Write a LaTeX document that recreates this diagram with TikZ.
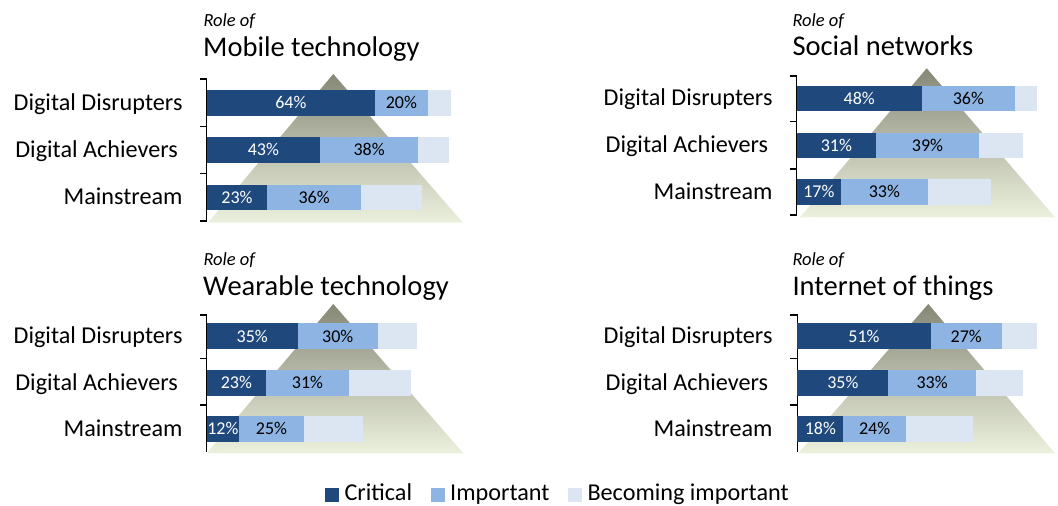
\documentclass[tikz,border=0pt]{standalone}
\usepackage{fontspec}
\setmainfont{Carlito}
\definecolor{crit}{RGB}{31,73,125}
\definecolor{imp}{RGB}{141,180,226}
\definecolor{becm}{RGB}{220,230,242}
\definecolor{pyrtop}{RGB}{134,136,118}
\definecolor{pyrbot}{RGB}{236,241,222}
\tikzset{
  grp/.style={anchor=base east,inner sep=0pt,font=\fontsize{24.2}{28}\selectfont},
  pct/.style={anchor=base,inner sep=0pt,font=\fontsize{18}{21}\selectfont},
  roleof/.style={anchor=base west,inner sep=0pt,font=\fontsize{18.5}{21}\selectfont\itshape},
  ttl/.style={anchor=base west,inner sep=0pt,font=\fontsize{28.5}{32}\selectfont},
  legtxt/.style={anchor=base west,inner sep=0pt,font=\fontsize{24.2}{28}\selectfont},
  brk/.style={line width=1.4pt,black},
}
% #1 name, #2 x0, #3 ytop, #4 dark end, #5 mid end, #6 light end, #7 label1, #8 label2
\newcommand\drawbar[8]{%
  \fill[becm] (#5,#3) rectangle (#6,#3+25.7);
  \fill[imp] (#4,#3) rectangle (#5,#3+25.7);
  \fill[crit] (#2,#3) rectangle (#4,#3+25.7);
  \node[pct,text=white] (#1c) at ({(#2+#4)/2},#3+18.9) {#7};
  \node[pct] (#1i) at ({(#4+#5)/2},#3+18.9) {#8};
}
\begin{document}
\begin{tikzpicture}[x=1pt,y=-1pt]
\useasboundingbox (0,0) rectangle (1058,506);
% ---------- pyramids ----------
\shade[top color=pyrtop,bottom color=pyrbot] (333.3,74) -- (463,222.7) -- (208,222.7) -- cycle;
\shade[top color=pyrtop,bottom color=pyrbot] (926.7,68.3) -- (1055,217.3) -- (800,217.3) -- cycle;
\shade[top color=pyrtop,bottom color=pyrbot] (333.3,304) -- (463.3,453.3) -- (206.7,453.3) -- cycle;
\shade[top color=pyrtop,bottom color=pyrbot] (928.3,304) -- (1055,453.3) -- (798.3,453.3) -- cycle;
% ---------- panel 1 ----------
\node[roleof] (r1) at (203.3,26) {Role of};
\node[ttl] (t1) at (203,56) {Mobile technology};
\draw[brk] (199.5,79) -- (206.7,79) -- (206.7,221) -- (199.5,221);
\draw[brk] (199.5,126.7) -- (206.7,126.7);
\draw[brk] (199.5,173.3) -- (206.7,173.3);
\drawbar{a1}{206.7}{90}{375}{427.7}{450.7}{64\%}{20\%}
\drawbar{a2}{206.7}{137}{320}{418.3}{449}{43\%}{38\%}
\drawbar{a3}{206.7}{184.5}{267.3}{361}{421.7}{23\%}{36\%}
\node[grp] (g11) at (182.7,110) {Digital Disrupters};
\node[grp] (g12) at (178,157.2) {Digital Achievers};
\node[grp] (g13) at (182.7,204.7) {Mainstream};
% ---------- panel 2 ----------
\node[roleof] (r2) at (792.3,26) {Role of};
\node[ttl] (t2) at (792.3,55) {Social networks};
\draw[brk] (789.5,76) -- (796.7,76) -- (796.7,215) -- (789.5,215);
\draw[brk] (789.5,121.7) -- (796.7,121.7);
\draw[brk] (789.5,169) -- (796.7,169);
\drawbar{b1}{796.7}{85.7}{921.7}{1015}{1036.7}{48\%}{36\%}
\drawbar{b2}{796.7}{132.5}{876}{979}{1022.7}{31\%}{39\%}
\drawbar{b3}{796.7}{179}{841}{927.7}{991}{17\%}{33\%}
\node[grp] (g21) at (772.7,105.7) {Digital Disrupters};
\node[grp] (g22) at (768.3,152.5) {Digital Achievers};
\node[grp] (g23) at (772.7,199.2) {Mainstream};
% ---------- panel 3 ----------
\node[roleof] (r3) at (203.3,265) {Role of};
\node[ttl] (t3) at (203,295) {Wearable technology};
\draw[brk] (199.5,315) -- (206.7,315) -- (206.7,451.7);
\draw[brk] (199.5,358.3) -- (206.7,358.3);
\draw[brk] (199.5,405) -- (206.7,405);
\drawbar{c1}{206.7}{323.3}{297.7}{377.7}{417.3}{35\%}{30\%}
\drawbar{c2}{206.7}{370}{266}{349}{411}{23\%}{31\%}
\drawbar{c3}{206.7}{416}{239}{304}{363.3}{12\%}{25\%}
\node[grp] (g31) at (182.7,343.4) {Digital Disrupters};
\node[grp] (g32) at (178,390.2) {Digital Achievers};
\node[grp] (g33) at (182.7,436.2) {Mainstream};
% ---------- panel 4 ----------
\node[roleof] (r4) at (792.3,265) {Role of};
\node[ttl] (t4) at (792.3,295) {Internet of things};
\draw[brk] (790,315) -- (797.3,315) -- (797.3,451.7);
\draw[brk] (790,358.3) -- (797.3,358.3);
\draw[brk] (790,405) -- (797.3,405);
\drawbar{d1}{797.3}{323.3}{930.7}{1001.7}{1036.7}{51\%}{27\%}
\drawbar{d2}{797.3}{370}{888.3}{976}{1022.7}{35\%}{33\%}
\drawbar{d3}{797.3}{416}{843.3}{906}{973.3}{18\%}{24\%}
\node[grp] (g41) at (772.7,343.4) {Digital Disrupters};
\node[grp] (g42) at (768.3,390.2) {Digital Achievers};
\node[grp] (g43) at (772.7,436.2) {Mainstream};
% ---------- legend ----------
\fill[crit] (325,488.3) rectangle (339,501.7);
\node[legtxt] (l1) at (344.3,500.7) {Critical};
\fill[imp] (431,488.3) rectangle (445,501.7);
\node[legtxt] (l2) at (450,500.7) {Important};
\fill[becm] (568.3,488.3) rectangle (582.3,501.7);
\node[legtxt] (l3) at (587.3,500.7) {Becoming important};
\end{tikzpicture}
\end{document}
